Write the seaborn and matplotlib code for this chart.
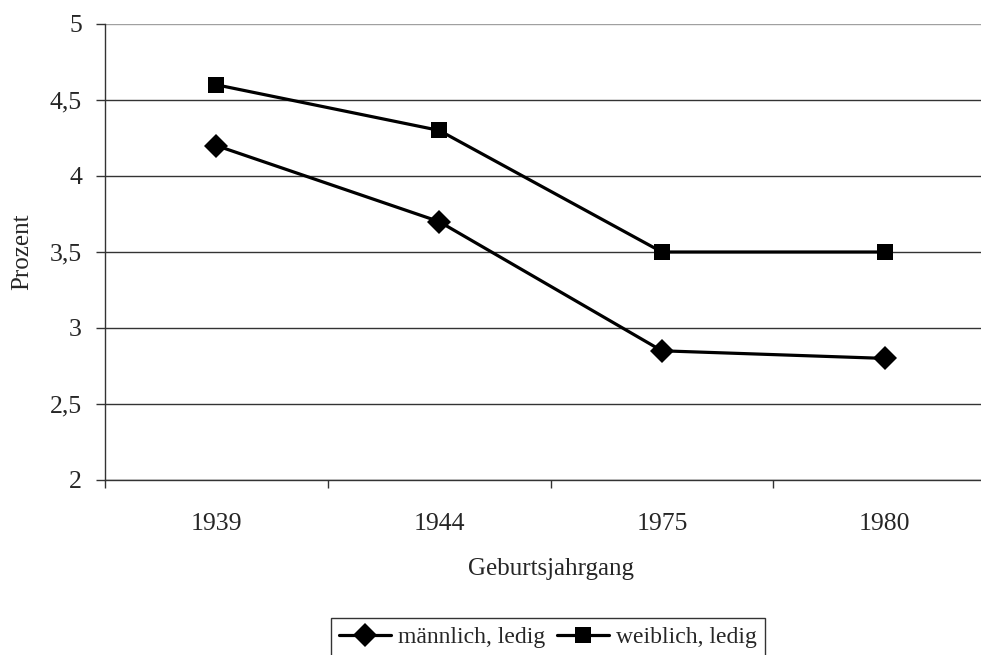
import pandas as pd
import seaborn as sns
import matplotlib.pyplot as plt
from matplotlib.ticker import FuncFormatter

# Daten
jahrgang = ['1939', '1944', '1975', '1980']
maennlich = [4.2, 3.7, 2.85, 2.8]
weiblich = [4.6, 4.3, 3.5, 3.5]

df = pd.DataFrame({'Jahrgang': jahrgang, 'maennlich': maennlich, 'weiblich': weiblich})

sns.set_style('white')
plt.rcParams['font.family'] = ['Liberation Serif', 'DejaVu Serif']

fig = plt.figure(figsize=(9.81, 6.55), dpi=100)
ax = fig.add_axes([105 / 981, 1 - 480 / 655, (996 - 105) / 981, 456 / 655])

sns.lineplot(data=df, x='Jahrgang', y='maennlich', ax=ax, color='black', linewidth=2.3,
             marker='D', markersize=12, markeredgecolor='black', markeredgewidth=0,
             label='männlich, ledig')
sns.lineplot(data=df, x='Jahrgang', y='weiblich', ax=ax, color='black', linewidth=2.3,
             marker='s', markersize=11, markeredgecolor='black', markeredgewidth=0,
             label='weiblich, ledig')

ax.set_ylim(2, 5)
ax.set_xlim(-0.5, 3.5)
ax.set_yticks([2, 2.5, 3, 3.5, 4, 4.5, 5])
ax.yaxis.set_major_formatter(FuncFormatter(lambda v, p: f'{v:g}'.replace('.', ',')))
ax.set_xticks([0, 1, 2, 3])
ax.set_xticks([-0.5, 0.5, 1.5, 2.5, 3.5], minor=True)
ax.tick_params(axis='x', which='major', bottom=False, length=0, labelsize=18.5, pad=23.5)
ax.tick_params(axis='x', which='minor', bottom=True, length=6, width=1, color='#333333', direction='out')
ax.tick_params(axis='y', left=True, length=6.5, width=1, color='#333333', direction='out',
               labelsize=18.5, pad=10)
ax.grid(axis='y', color='#333333', linewidth=1)
ax.get_ygridlines()[-1].set_color('#a0a0a0')
ax.set_axisbelow(True)

for s in ['top', 'right']:
    ax.spines[s].set_visible(False)
for s in ['left', 'bottom']:
    ax.spines[s].set_color('#333333')
    ax.spines[s].set_linewidth(1)

ax.set_xlabel('Geburtsjahrgang', fontsize=18)
ax.set_ylabel('Prozent', fontsize=18)
ax.xaxis.set_label_coords((551 - 105) / (996 - 105), -(569 - 480) / 456)
ax.yaxis.set_label_coords(-(105 - 22) / (996 - 105), 0.5)
ax.xaxis.label.set_va('center')
ax.yaxis.label.set_va('center')

leg = ax.legend(loc='center', bbox_to_anchor=(548 / 981, 1 - 637 / 655), bbox_transform=fig.transFigure,
                ncol=2, frameon=True, fancybox=False, edgecolor='black', fontsize=17,
                handlelength=2.2, handletextpad=0.3, columnspacing=0.5, borderpad=0.35,
                borderaxespad=0)
leg.get_frame().set_linewidth(1)

fig.savefig('out.png', dpi=100)
